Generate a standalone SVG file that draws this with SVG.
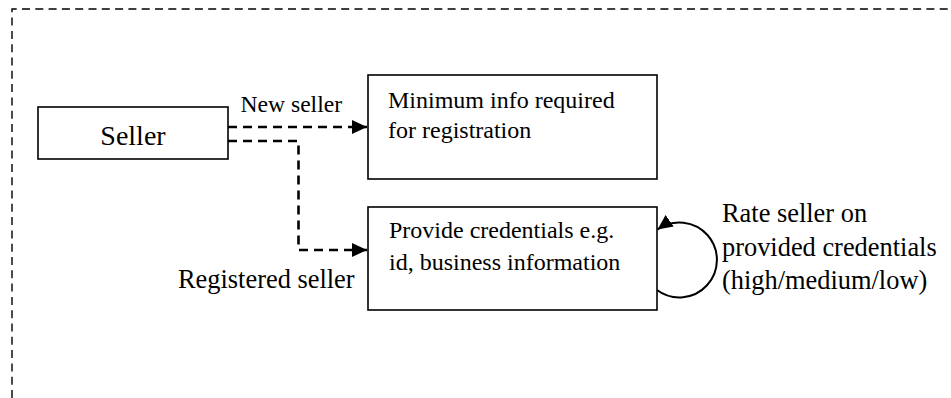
<svg xmlns="http://www.w3.org/2000/svg" width="951" height="398" viewBox="0 0 951 398">
<style>
.box{fill:#fff;stroke:#000;stroke-width:1.6}
.t{font-family:"Liberation Serif","Times New Roman",serif;fill:#000}
.conn{fill:none;stroke:#000;stroke-width:2.6;stroke-dasharray:9 6}
.loop{fill:none;stroke:#000;stroke-width:2}
.frame{fill:none;stroke:#000;stroke-width:1.4;stroke-dasharray:8 5.3}
</style>
<defs>
<marker id="arr" markerUnits="userSpaceOnUse" markerWidth="16" markerHeight="15" refX="15" refY="7" orient="auto">
<path d="M0,0 L15,7 L0,14 z" fill="#000"/>
</marker>
</defs>
<path class="frame" d="M12 398 V9 H951"/>
<g id="connectors">
<path class="conn" d="M228 127 H367" marker-end="url(#arr)"/>
<path class="conn" d="M228 141 H298.5 V250 H367" marker-end="url(#arr)"/>
<path class="loop" d="M657 290 A37.5 37.5 0 1 0 657.5 229.5" marker-end="url(#arr)"/>
<text class="t" x="240.5" y="112" font-size="23.6">New seller</text>
<text class="t" x="178" y="288" font-size="26.4">Registered seller</text>
<text class="t" x="722" y="222" font-size="26.4">Rate seller on</text>
<text class="t" x="722" y="256" font-size="26.4">provided credentials</text>
<text class="t" x="722" y="289" font-size="26.4">(high/medium/low)</text>
</g>
<g id="seller">
<rect class="box" x="38" y="107" width="190" height="52"/>
<text class="t" x="133" y="145" font-size="28" text-anchor="middle">Seller</text>
</g>
<g id="minimum">
<rect class="box" x="368" y="75" width="289" height="104"/>
<text class="t" x="388" y="108" font-size="24">Minimum info required</text>
<text class="t" x="388" y="138" font-size="24">for registration</text>
</g>
<g id="provide">
<rect class="box" x="368" y="207" width="289" height="103"/>
<text class="t" x="389" y="238" font-size="24">Provide credentials e.g.</text>
<text class="t" x="389" y="270" font-size="24">id, business information</text>
</g>
</svg>
